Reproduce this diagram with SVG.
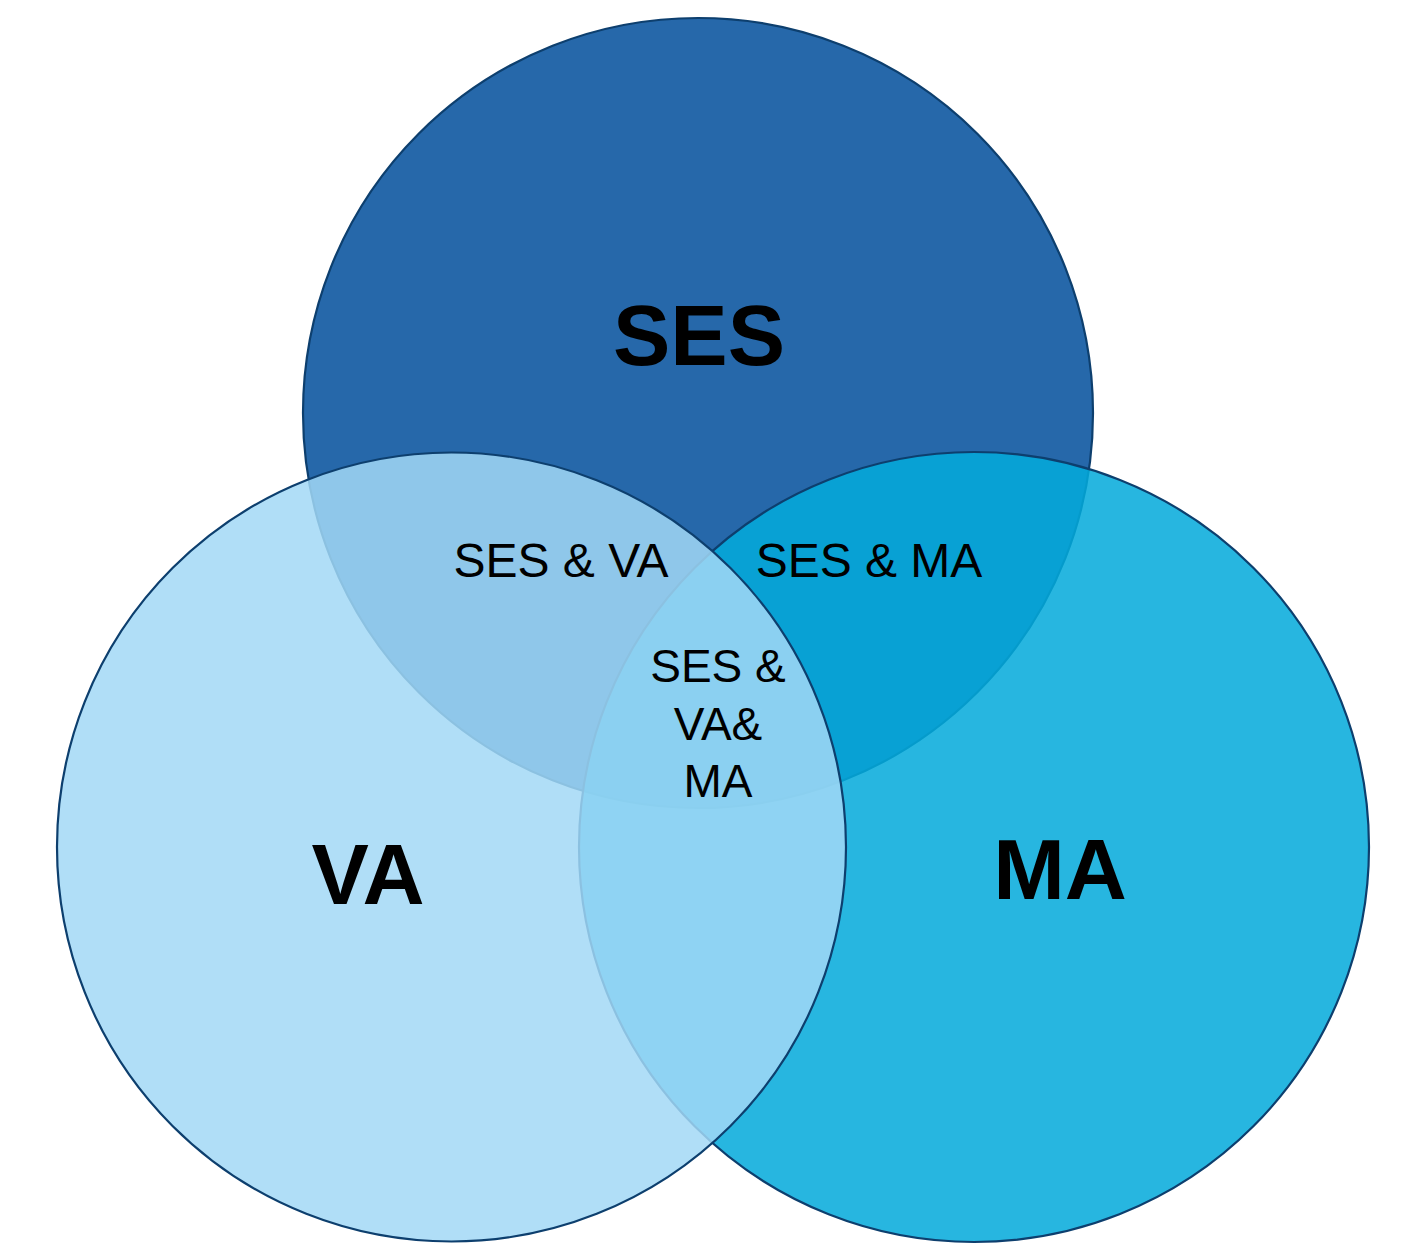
<svg xmlns="http://www.w3.org/2000/svg" width="1412" height="1249" viewBox="0 0 1412 1249">
  <style>
    .set { stroke: #0D3F6E; stroke-width: 2.2; }
    .big { font-family: "Liberation Sans", Arial, sans-serif; font-weight: bold; font-size: 86px; fill: #000; text-anchor: middle; }
    .small { font-family: "Liberation Sans", Arial, sans-serif; font-size: 46px; fill: #000; text-anchor: middle; }
    .pair { font-size: 48px; }
  </style>
  <rect width="1412" height="1249" fill="#FFFFFF"/>

  <!-- SES set (bottom layer, opaque) -->
  <g id="ses">
    <circle class="set" cx="698" cy="413" r="395" fill="#2668AA"/>
  </g>

  <!-- MA set (translucent, over SES) -->
  <g id="ma">
    <circle class="set" cx="974" cy="847" r="395" fill="#04AADB" fill-opacity="0.86"/>
  </g>

  <!-- VA set (translucent, top layer) -->
  <g id="va">
    <circle class="set" cx="451.5" cy="847" r="394.5" fill="#A2D8F6" fill-opacity="0.85"/>
  </g>

  <!-- set labels -->
  <g id="labels">
    <text class="big" x="699" y="365">SES</text>
    <text class="big" x="368" y="904">VA</text>
    <text class="big" x="1060" y="899">MA</text>
  </g>

  <!-- overlap labels -->
  <g id="overlaps">
    <text class="small pair" x="561" y="577">SES &amp; VA</text>
    <text class="small pair" x="869" y="577">SES &amp; MA</text>
    <text class="small" x="718" y="682">SES &amp;</text>
    <text class="small" x="718" y="740">VA&amp;</text>
    <text class="small" x="718" y="797">MA</text>
  </g>
</svg>
